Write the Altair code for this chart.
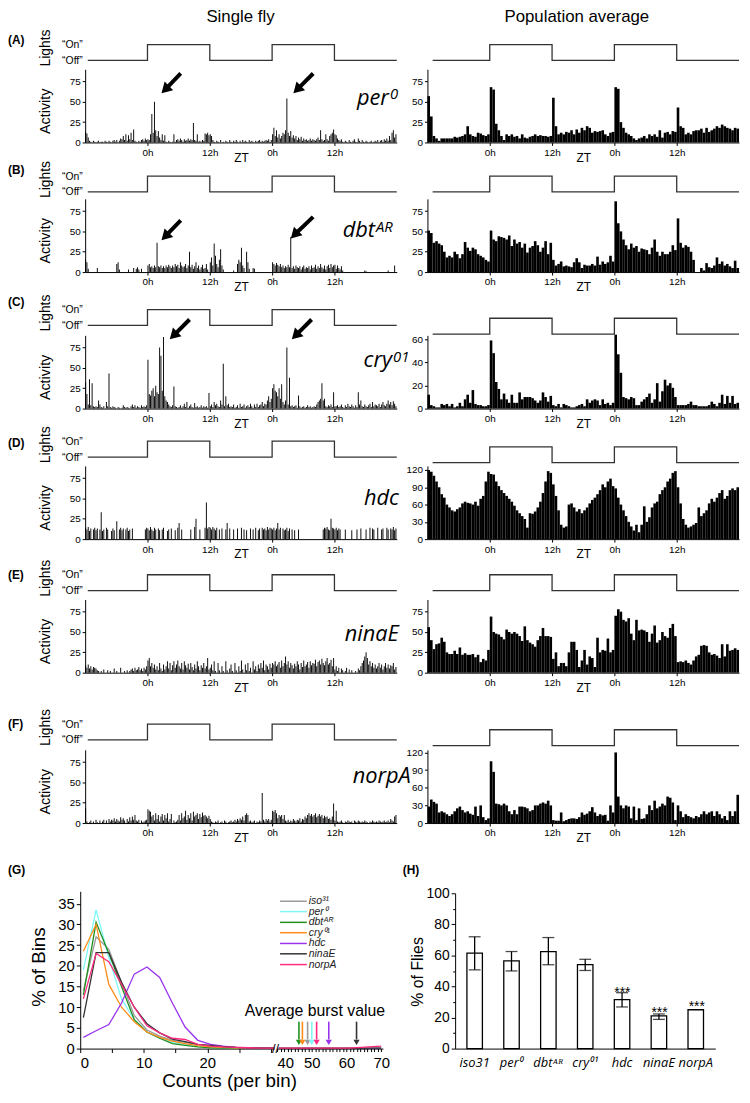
import altair as alt
import pandas as pd

FONT = "Liberation Sans"
IT_FONT = "Open Sans"

# ---------------- single fly: 15-min bins, ZT -12h .. 48h (240 values) ----------------
PER0_SINGLE = [
    13,11,6,2, 1,0,2,1, 0,1,2,0, 1,1,0,2, 1,0,2,1, 0,2,3,1, 3,0,2,5, 4,8,3,10, 2,9,4,12, 3,16,2,1, 0,2,1,3, 4,2,5,3,
    4,3,10,35, 12,50,15,8, 14,6,3,10, 2,9,1,0, 2,1,0,1, 10,1,3,4, 2,5,3,1, 4,2,3,5, 2,4,3,24, 3,2,10,1, 2,1,3,2, 11,10,12,9,
    10,8,3,1, 0,2,1,0, 3,0,1,0, 2,1,0,3, 1,0,2,1, 3,1,0,2, 0,3,1,2, 1,0,3,1, 2,1,0,2, 1,2,3,1, 2,1,2,3, 2,4,1,3,
    10,18,8,15, 6,10,5,8, 12,10,15,54, 12,8,14,6, 9,5,8,3, 6,4,7,2, 5,3,4,2, 3,5,2,4, 3,2,4,6, 3,15,4,2, 3,10,4,2, 8,10,12,16,
    10,9,5,3, 2,4,1,0, 2,1,0,3, 1,0,2,4, 1,0,5,2, 0,3,1,0, 2,1,0,1, 2,0,1,2, 1,3,0,2, 3,1,4,2, 5,2,8,3, 12,15,6,10,
]
DBT_SINGLE = [
    15,12,4,0, 0,0,0,0, 0,5,0,0, 0,0,0,0, 0,0,0,0, 0,0,0,0, 10,12,3,0, 0,0,0,0, 0,3,0,0, 0,5,0,4, 6,3,0,4, 0,0,0,0,
    8,10,6,7, 5,8,6,36, 7,6,8,5, 7,5,8,6, 9,7,5,8, 6,10,7,9, 5,12,8,6, 7,10,5,8, 25,6,9,4, 7,12,5,8, 3,6,9,4, 5,10,3,0,
    12,18,8,35, 20,10,6,15, 28,8,3,0, 0,0,0,0, 0,0,2,0, 0,10,15,12, 30,8,5,0, 25,12,4,0, 0,5,4,0, 0,0,0,0, 0,0,0,0, 0,0,0,0,
    12,10,8,11, 9,7,10,6, 8,5,7,6, 9,6,43,5, 7,4,8,6, 5,7,3,6, 8,4,6,5, 7,3,8,5, 6,9,4,7, 5,10,6,4, 8,3,7,9, 5,10,6,8,
    9,4,8,5, 3,7,2,0, 0,0,0,0, 0,0,0,0, 0,0,0,0, 0,0,0,2, 1,0,0,0, 0,0,0,0, 0,0,0,0, 0,0,0,0, 0,2,0,0, 0,0,8,0,
]
CRY_SINGLE = [
    32,18,5,36, 4,31,3,2, 3,2,10,5, 2,1,3,0, 8,3,43,2, 1,3,2,1, 0,2,1,0, 1,4,2,1, 2,1,0,3, 5,2,4,1, 3,2,1,4, 2,3,2,4,
    60,18,16,22, 25,15,28,20, 18,75,65,22, 88,15,10,8, 5,3,2,4, 27,3,2,1, 2,4,1,3, 6,2,8,1, 3,5,2,1, 7,2,3,1, 2,4,1,3, 2,3,1,19,
    3,5,2,8, 4,6,3,2, 10,5,55,3, 15,4,6,2, 3,2,5,1, 2,4,1,6, 2,3,5,1, 3,4,2,6, 3,1,5,2, 6,2,4,5, 8,3,6,5, 10,15,8,12,
    25,30,22,20, 15,25,12,30, 8,5,10,75, 5,38,3,4, 2,3,4,1, 16,3,1,2, 3,1,2,4, 2,3,1,2, 3,2,5,8, 10,12,31,10, 12,3,2,4, 3,5,2,20,
    3,3,4,2, 3,5,2,1, 4,2,6,3, 2,5,3,1, 4,2,20,5, 10,3,2,5, 3,2,4,6, 2,8,3,5, 4,3,6,2, 5,8,4,3, 6,10,5,8, 4,9,6,3,
]
HDC_SINGLE = [
    14,12,15,10, 13,0,12,14, 11,13,0,12, 33,10,12,0, 14,12,0,0, 10,13,11,0, 22,0,12,14, 11,13,0,12, 14,10,12,0, 13,0,0,0, 0,0,0,0, 0,0,12,14,
    13,11,15,12, 10,14,12,0, 13,11,0,12, 14,0,0,10, 12,0,13,0, 0,11,0,14, 20,0,12,0, 0,0,0,0, 0,12,0,0, 15,25,0,0, 12,0,0,0, 14,45,13,15,
    14,12,15,13, 11,14,0,12, 0,13,0,0, 12,20,0,13, 0,0,12,0, 0,13,0,0, 14,0,12,0, 11,0,0,13, 0,12,0,14, 0,11,13,0, 14,12,13,11, 15,12,14,13,
    12,14,11,13, 20,12,14,0, 13,11,12,14, 10,13,0,12, 0,11,0,0, 12,0,0,0, 0,0,0,0, 0,0,0,0, 0,0,0,0, 0,0,0,12, 14,13,15,12, 11,25,14,13,
    12,14,11,13, 12,0,0,0, 12,0,0,0, 0,11,0,0, 0,12,0,0, 13,0,0,0, 12,0,0,14, 0,13,12,0, 0,14,0,0, 12,13,0,0, 14,12,0,13, 12,15,11,13,
]
NINAE_SINGLE = [
    9,6,10,5, 8,4,7,6, 5,3,2,0, 2,0,4,0, 0,3,0,2, 0,0,5,0, 2,0,0,6, 0,0,2,0, 3,0,2,4, 5,2,6,3, 4,7,3,5, 2,6,4,8,
    15,18,8,12, 6,10,4,8, 3,12,5,2, 10,4,8,14, 5,12,3,9, 14,6,10,15, 8,5,12,4, 14,9,6,11, 4,12,7,3, 10,5,14,8, 3,9,6,12, 5,8,18,4,
    6,10,3,14, 2,0,12,3, 0,8,2,0, 14,3,0,5, 10,2,0,12, 3,0,8,2, 15,4,0,10, 3,12,2,6, 0,14,4,8, 2,10,5,12, 6,15,3,10, 8,4,11,6,
    12,10,14,8, 10,13,6,15, 8,12,20,10, 14,6,12,9, 5,11,8,14, 10,4,12,7, 15,8,10,13, 6,14,9,12, 11,16,8,13, 15,10,17,12, 9,14,18,10, 12,16,8,18,
    4,8,2,6, 0,5,3,0, 2,6,0,4, 0,3,0,0, 2,0,5,3, 8,12,15,20, 25,18,10,14, 8,12,6,10, 5,8,12,6, 10,4,8,12, 6,10,5,9, 8,12,4,7,
]
NORPA_SINGLE = [
    18,2,0,1, 3,0,2,0, 4,1,0,3, 0,2,4,0, 3,0,5,2, 4,3,6,2, 5,3,2,7, 4,6,3,0, 5,2,7,3, 8,4,10,3, 2,4,0,3, 1,2,3,4,
    17,15,14,8, 10,3,12,5, 10,2,8,11, 3,10,6,12, 2,5,11,0, 3,1,2,4, 10,3,12,6, 8,15,4,10, 6,12,3,14, 8,10,12,5, 11,7,13,9, 10,8,6,9,
    5,2,1,0, 2,1,3,0, 1,2,0,3, 2,0,1,2, 3,1,2,4, 2,5,3,6, 4,8,3,10, 12,10,2,3, 1,2,3,0, 2,1,3,2, 37,4,2,5, 3,5,2,4,
    15,14,16,12, 6,10,8,10, 5,10,3,2, 4,1,3,2, 5,3,2,4, 3,6,2,5, 4,8,6,10, 12,9,11,8, 10,12,7,9, 11,8,10,6, 9,7,8,5, 6,4,8,24,
    3,15,2,1, 2,3,1,0, 2,1,3,2, 1,2,0,3, 2,1,3,2, 1,2,1,3, 2,1,0,2, 1,3,2,1, 2,1,3,2, 1,2,3,1, 2,3,1,5, 3,2,8,10,
]

# ---------------- population average: 30-min bins (120 values) ----------------
PER0_POP = [
    57,32,8,5,2,5,5,5,5,5,7,6,7,8,10,20,10,8,7,12,11,9,8,10,
    68,65,23,15,8,3,10,8,10,7,8,5,10,6,5,7,8,10,8,9,8,8,7,8,
    55,20,10,12,10,13,12,15,10,16,12,18,15,20,18,12,14,13,14,15,10,8,12,13,
    68,66,25,18,12,10,8,5,3,5,6,8,5,10,8,10,7,15,6,12,13,10,14,13,
    43,20,18,10,12,10,14,15,15,17,12,18,13,15,17,20,18,22,20,18,17,15,18,17,
]
DBT_POP = [
    51,48,36,38,35,33,25,18,20,18,25,22,17,22,37,30,26,30,28,22,20,18,15,13,
    51,40,38,44,43,42,40,45,32,40,35,37,30,35,24,30,32,38,33,25,30,38,22,36,
    15,8,10,13,7,8,7,6,12,17,12,5,9,8,8,10,8,19,9,13,10,12,20,13,
    87,60,50,40,33,28,35,30,32,25,29,28,27,22,30,40,25,20,25,22,22,25,33,27,
    66,36,30,33,31,25,15,0,0,5,2,11,6,5,8,18,10,13,8,10,7,5,14,5,
]
CRY_POP = [
    12,3,2,1,1,4,3,4,2,4,1,2,5,2,8,12,5,16,4,3,3,2,2,3,
    59,48,23,17,8,13,8,5,12,5,5,14,8,10,10,10,9,7,5,7,14,10,6,11,
    3,2,4,1,4,3,2,1,1,2,3,4,2,8,5,7,8,7,3,8,4,5,3,5,
    64,47,31,10,9,8,10,9,3,3,6,8,10,13,5,8,22,6,15,25,20,22,18,10,
    3,3,3,3,4,6,3,3,2,2,2,2,3,6,4,2,5,12,4,11,5,11,4,5,
]
HDC_POP = [
    120,117,110,100,90,78,72,60,55,50,48,52,55,62,65,63,62,60,65,58,70,75,100,117,
    113,112,100,92,85,80,75,70,65,58,50,45,40,35,20,45,44,48,55,65,80,100,118,115,
    95,75,50,25,20,22,60,62,55,48,52,45,50,55,62,68,72,78,85,95,90,100,105,92,
    88,72,60,50,40,30,22,15,25,12,25,57,30,38,55,62,65,78,85,90,100,105,115,118,
    90,62,35,25,20,22,25,28,55,40,45,50,62,70,65,72,80,85,70,75,85,88,85,90,
]
NINAE_POP = [
    56,40,29,35,36,43,38,25,23,23,27,23,31,22,24,22,22,23,19,22,13,17,15,28,
    69,50,48,47,44,41,53,50,48,50,48,45,39,57,40,37,35,32,40,45,55,45,45,44,
    17,25,8,12,12,8,25,38,38,28,7,15,28,10,20,18,7,43,25,28,27,42,25,28,
    70,78,75,65,63,67,48,40,65,52,53,52,50,38,48,58,37,40,50,45,43,55,60,45,
    13,14,13,15,12,10,15,20,22,33,34,33,25,22,23,21,18,35,20,35,27,28,30,28,
]
NORPA_POP = [
    28,40,36,33,18,20,18,15,12,15,20,25,28,22,18,20,16,14,28,12,30,10,5,8,
    105,87,33,32,30,33,30,20,15,22,15,28,28,27,25,20,22,30,30,33,35,33,38,30,
    5,4,4,18,3,5,7,8,8,7,10,18,14,16,20,27,18,12,15,13,14,4,30,18,
    120,45,30,25,30,28,8,28,5,25,7,8,15,30,22,38,25,28,33,30,45,43,35,5,
    30,20,10,15,12,10,8,12,10,15,20,15,18,20,12,20,15,8,12,5,20,12,20,48,
]

SINGLE = [PER0_SINGLE, DBT_SINGLE, CRY_SINGLE, HDC_SINGLE, NINAE_SINGLE, NORPA_SINGLE]
POP = [PER0_POP, DBT_POP, CRY_POP, HDC_POP, NINAE_POP, NORPA_POP]
for s in SINGLE:
    assert len(s) == 240, len(s)
for p in POP:
    assert len(p) == 120, len(p)

LIGHT_T = [-12, 0, 12, 24, 36, 48]
LIGHT_S = [0, 1, 0, 1, 0, 0]
ZT_TICKS = [0, 12, 24, 36]

ROW_LETTER = ["(A)", "(B)", "(C)", "(D)", "(E)", "(F)"]
ROW_H = [99, 131, 138, 132, 135, 152]
ON_LEFT = [0, 34, 38, 33, 36, 52]
ON_RIGHT = [0, 34, 46.7, 38.7, 36, 57.7]
LETTER_Y = [-5, 28, 30, 34.7, 36, 52]
POP_MAX = [90, 90, 63.4, 127, 90, 124.4]
POP_TICKS = [[0, 25, 50, 75], [0, 25, 50, 75], [0, 20, 40, 60],
             [0, 30, 60, 90, 120], [0, 25, 50, 75], [0, 30, 60, 90, 120]]

GENO_BASE = ["per", "dbt", "cry", "hdc", "ninaE", "norpA"]
GENO_SUP = ["0", "AR", "01", "", "", ""]
GENO_X = [46.5, 43.8, 47.1, 48.4, 48.4, 50.7]
GENO_Y = [46, 42.5, 50.5, 41.5, 39.5, 49.5]

ARROW_TAIL_X = [[6.4, 31.9], [6.4, 31.9], [8.1, 31.6]]
ARROW_TAIL_Y = [[84.8, 84.8], [63.6, 67.8], [109.5, 109.5]]
ARROW_TIP_X = [[2.7, 28.1], [2.7, 27.6], [4.3, 27.8]]
ARROW_TIP_Y = [[60.5, 60.5], [39.3, 41.4], [85.2, 85.2]]

# ---------------- panel G ----------------
G_NAMES = ["iso31", "per0", "dbtAR", "cry01", "hdc", "ninaE", "norpA"]
G_LABELS = ["iso\u00b3\u00b9", "per\u2070", "dbt\u1d2c\u1d3f", "cry\u2070\u00b9", "hdc", "ninaE", "norpA"]
G_COLORS = ["#9a9a9a", "#7ff7f7", "#1f8f1f", "#ff8c1a", "#9933ee", "#333333", "#ff2a7f"]
G_X = [0.5, 2.5, 4.5, 6.5, 8.5, 10.5, 12.5, 14.5, 16.5, 18.5, 20.5, 22.5, 24.5, 26.5, 28.5, 30.5]
G_SERIES = [
    [14, 27, 24, 16, 8, 4.5, 3, 2, 1.5, 1, 0.7, 0.4, 0.3, 0.2, 0.1, 0.1],
    [19, 33.5, 22, 12, 7, 4, 2.5, 1.5, 1, 0.5, 0.3, 0.2, 0.1, 0.1, 0.05, 0.05],
    [13, 30.5, 23, 15, 7, 4, 2.5, 1.2, 0.8, 0.4, 0.2, 0.1, 0.1, 0.05, 0.05, 0.05],
    [23.5, 30, 15.5, 10, 6.5, 4, 2.7, 1.8, 1.2, 0.7, 0.4, 0.3, 0.2, 0.1, 0.1, 0.1],
    [2.7, 4.3, 5.8, 11, 18, 19.7, 17.2, 11, 5.2, 2, 1, 0.6, 0.3, 0.2, 0.1, 0.1],
    [7.5, 23.2, 23.2, 16, 10, 6, 3.8, 2.3, 1.7, 1, 0.8, 0.5, 0.3, 0.2, 0.1, 0.1],
    [12, 23, 21, 15.5, 10, 5.5, 3.8, 2.5, 2.2, 1, 0.6, 0.4, 0.3, 0.2, 0.1, 0.1],
]
G_RIGHT_X = [40.5, 50.5, 60.5, 70.0]
G_RIGHT = [
    [0.05, 0.05, 0.05, 0.05], [0.05, 0.05, 0.05, 0.05], [0.05, 0.05, 0.05, 0.05],
    [0.05, 0.05, 0.05, 0.05], [0.05, 0.05, 0.05, 0.05], [0.05, 0.05, 0.05, 0.1],
    [0.1, 0.1, 0.1, 0.6],
]
LEG_Y = [35.6, 33.1, 30.5, 28.0, 25.4, 22.9, 20.3]
BURST_NAMES = ["dbtAR", "cry01", "iso31", "per0", "norpA", "hdc", "ninaE"]
BURST_X = [46.3, 47.3, 48.8, 50.0, 51.4, 54.9, 62.9]

# ---------------- panel H ----------------
H_NAMES = ["iso31", "per\u2070", "dbt\u1d2c\u1d3f", "cry\u2070\u00b9", "hdc", "ninaE", "norpA"]
H_VALS = [61.5, 56.5, 62.5, 54, 31.5, 21, 25]
H_LO = [50.7, 50, 54, 50.3, 26.8, 18.8]
H_HI = [72, 62.5, 71.5, 57.5, 36, 22.3]
STAR_NAMES = ["hdc", "ninaE", "norpA"]
STAR_Y = [38.3, 25.4, 29.0]
H_MINOR = [10, 30, 50, 70, 90]


def xscale():
    return alt.Scale(domain=[-12, 48], nice=False, zero=False)


def bars_df(vals, step, width):
    start = [-12 + i * step for i in range(len(vals))]
    return pd.DataFrame({"t": start, "t2": [s + width for s in start],
                         "v": vals, "z": [0] * len(vals)})


def text_layer(txt, x, y, size, weight="normal", align="left", baseline="middle"):
    return alt.Chart(pd.DataFrame({"s": [txt]})).mark_text(
        font=FONT, fontSize=size, fontWeight=weight, align=align, baseline=baseline, color="black"
    ).encode(x=alt.value(x), y=alt.value(y), text="s:N")


def make_cell(row, side):
    h = ROW_H[row]
    left = side == 0
    on = ON_LEFT[row] if left else ON_RIGHT[row]
    start = -11.5 if left else -11.0
    ldf = pd.DataFrame({"t": [start] + LIGHT_T[1:], "s": LIGHT_S})
    lys = alt.Scale(domain=[0, 1], range=[on + 16, on], nice=False, zero=False)
    if left:
        lax = alt.Axis(orient="left", values=[0, 1],
                       labelExpr="datum.value == 1 ? '\u201cOn\u201d' : '\u201cOff\u201d'",
                       domain=False, ticks=False, labelFontSize=10.5, labelPadding=3,
                       title="Lights", titleFontSize=14, titleFontWeight="normal",
                       titleAngle=270, titleAlign="center", titleBaseline="middle",
                       titleX=-40, titleY=on + 3)
    else:
        lax = None
    layers = [alt.Chart(ldf).mark_line(interpolate="step-after", color="#333333", strokeWidth=1.3).encode(
        x=alt.X("t:Q", scale=xscale(), axis=None),
        y=alt.Y("s:Q", scale=lys, axis=lax),
    )]
    if left:
        layers.append(text_layer(ROW_LETTER[row], -78, LETTER_Y[row], 12, weight="bold"))
    if row == 0:
        if left:
            layers.append(text_layer("Single fly", 157, -36, 17, align="center", baseline="top"))
        else:
            layers.append(text_layer("Population average", 151, -36, 17, align="center", baseline="top"))

    if left:
        vals, step, bw, ymax, ticks = SINGLE[row], 0.25, 0.18, 90, [0, 25, 50, 75]
    else:
        vals, step, bw, ymax, ticks = POP[row], 0.5, 0.5, POP_MAX[row], POP_TICKS[row]

    def ays():
        return alt.Scale(domain=[0, ymax], range=[h, h - 74], nice=False, zero=False)

    yax = alt.Axis(orient="left", values=ticks, tickSize=3, labelFontSize=10, labelPadding=2,
                   title="Activity" if left else "", titleFontSize=14.5, titleFontWeight="normal",
                   titleAngle=270, titleAlign="center", titleBaseline="middle",
                   titleX=-40, titleY=h - 32)
    xax = alt.Axis(orient="bottom", values=ZT_TICKS,
                   labelExpr="datum.value % 24 == 0 ? '0h' : '12h'",
                   tickSize=3, labelFontSize=10, labelPadding=2,
                   title="ZT", titleFontSize=12, titleFontWeight="normal",
                   titleY=19, titleBaseline="alphabetic")
    layers.append(alt.Chart(bars_df(vals, step, bw)).mark_rect(color="black").encode(
        x=alt.X("t:Q", scale=xscale(), axis=xax),
        x2="t2:Q",
        y=alt.Y("v:Q", scale=ays(), axis=yax),
        y2="z:Q",
    ))
    if left:
        gdf = pd.DataFrame({"x": [GENO_X[row]], "y": [GENO_Y[row]],
                            "b": [GENO_BASE[row]], "s": [GENO_SUP[row]]})
        layers.append(alt.Chart(gdf).mark_text(
            font=IT_FONT, fontStyle="italic", fontSize=22, align="right",
            baseline="alphabetic", color="black").encode(
            x=alt.X("x:Q", scale=xscale(), axis=None),
            y=alt.Y("y:Q", scale=ays(), axis=None),
            text="b:N"))
        layers.append(alt.Chart(gdf).mark_text(
            font=IT_FONT, fontStyle="italic", fontSize=15, align="left",
            baseline="alphabetic", dx=1, dy=-6, color="black").encode(
            x=alt.X("x:Q", scale=xscale(), axis=None),
            y=alt.Y("y:Q", scale=ays(), axis=None),
            text="s:N"))
        if row < 3:
            adf = pd.DataFrame({
                "x": ARROW_TAIL_X[row], "y": ARROW_TAIL_Y[row],
                "hx": [v + 0.71 for v in ARROW_TIP_X[row]],
                "hy": [v + 4.5 for v in ARROW_TIP_Y[row]],
            })
            layers.append(alt.Chart(adf).mark_rule(color="black", strokeWidth=4).encode(
                x=alt.X("x:Q", scale=xscale(), axis=None),
                y=alt.Y("y:Q", scale=ays(), axis=None),
                x2="hx:Q", y2="hy:Q"))
            layers.append(alt.Chart(adf).mark_point(
                shape="triangle-up", angle=225, filled=True, size=150,
                color="black", opacity=1).encode(
                x=alt.X("hx:Q", scale=xscale(), axis=None),
                y=alt.Y("hy:Q", scale=ays(), axis=None)))
    return alt.layer(*layers).resolve_scale(
        x="independent", y="independent").properties(width=315, height=h)


cells = []
for r in range(6):
    cells.append(make_cell(r, 0))
    cells.append(make_cell(r, 1))

# ---------------- G ----------------
GH = 228


def gx_l():
    return alt.Scale(domain=[0, 30.5], range=[-5, 191], nice=False, zero=False)


def gx_r():
    return alt.Scale(domain=[40, 70.5], range=[194, 301], nice=False, zero=False)


def gy():
    return alt.Scale(domain=[0, 38], range=[GH, 69], nice=False, zero=False)


gcolor = alt.Scale(domain=G_NAMES, range=G_COLORS)

gl_rows = []
for n, vals in zip(G_NAMES, G_SERIES):
    for x, v in zip(G_X, vals):
        gl_rows.append({"name": n, "x": x, "pct": v})
gl_df = pd.DataFrame(gl_rows)
gr_rows = []
for n, vals in zip(G_NAMES, G_RIGHT):
    for x, v in zip(G_RIGHT_X, vals):
        gr_rows.append({"name": n, "x": x, "pct": v})
gr_df = pd.DataFrame(gr_rows)

gl_lines = alt.Chart(gl_df).mark_line(strokeWidth=1.3).encode(
    x=alt.X("x:Q", scale=gx_l(), axis=alt.Axis(
        orient="bottom", values=[0, 5, 10, 15, 20, 25, 30],
        labelExpr="datum.value % 10 == 0 && datum.value < 30 ? datum.label : ''",
        tickSize=4, labelFontSize=15, labelPadding=3, title="")),
    y=alt.Y("pct:Q", scale=gy(), axis=alt.Axis(
        orient="left", offset=5, values=[0, 5, 10, 15, 20, 25, 30, 35],
        tickSize=4, labelFontSize=15, labelPadding=2,
        title="% of Bins", titleFontSize=19, titleFontWeight="normal",
        titleAngle=270, titleAlign="center", titleBaseline="middle",
        titleX=-42.5, titleY=145)),
    color=alt.Color("name:N", scale=gcolor, legend=None),
)
gr_lines = alt.Chart(gr_df).mark_line(strokeWidth=1.3).encode(
    x=alt.X("x:Q", scale=gx_r(), axis=alt.Axis(
        orient="bottom", values=list(range(40, 71)),
        labelExpr="datum.value % 10 == 0 ? datum.label : ''",
        tickSize=3, labelFontSize=15, labelPadding=4, title="")),
    y=alt.Y("pct:Q", scale=gy(), axis=None),
    color=alt.Color("name:N", scale=gcolor, legend=None),
)
bdf = pd.DataFrame({"name": BURST_NAMES, "x": BURST_X,
                    "y1": [6.5] * 7, "y2": [2.2] * 7, "yh": [1.5] * 7})
b_rule = alt.Chart(bdf).mark_rule(strokeWidth=1.6).encode(
    x=alt.X("x:Q", scale=gx_r(), axis=None),
    y=alt.Y("y1:Q", scale=gy(), axis=None), y2="y2:Q",
    color=alt.Color("name:N", scale=gcolor, legend=None))
b_head = alt.Chart(bdf).mark_point(shape="triangle-down", filled=True, size=40, opacity=1).encode(
    x=alt.X("x:Q", scale=gx_r(), axis=None),
    y=alt.Y("yh:Q", scale=gy(), axis=None),
    color=alt.Color("name:N", scale=gcolor, legend=None))
ldf = pd.DataFrame({"name": G_NAMES, "lab": G_LABELS, "y": LEG_Y,
                    "x1": [40.86] * 7, "x2": [48.57] * 7, "xt": [49.14] * 7})
leg_rule = alt.Chart(ldf).mark_rule(strokeWidth=1.5).encode(
    x=alt.X("x1:Q", scale=gx_r(), axis=None), x2="x2:Q",
    y=alt.Y("y:Q", scale=gy(), axis=None),
    color=alt.Color("name:N", scale=gcolor, legend=None))
leg_text = alt.Chart(ldf).mark_text(font=FONT, fontStyle="italic", fontSize=10.5,
                                    align="left", baseline="middle", color="#222222").encode(
    x=alt.X("xt:Q", scale=gx_r(), axis=None),
    y=alt.Y("y:Q", scale=gy(), axis=None),
    text="lab:N")
avg_df = pd.DataFrame({"x": [50.9], "y": [7.9], "s": ["Average burst value"]})
avg_text = alt.Chart(avg_df).mark_text(font=FONT, fontSize=16, align="center",
                                       baseline="alphabetic", color="black").encode(
    x=alt.X("x:Q", scale=gx_r(), axis=None),
    y=alt.Y("y:Q", scale=gy(), axis=None),
    text="s:N")
g_cell = alt.layer(
    gl_lines, gr_lines, b_rule, b_head, leg_rule, leg_text, avg_text,
    text_layer("(G)", -78, 47, 12, weight="bold"),
    text_layer("Counts (per bin)", 146, GH + 38.5, 19, align="center", baseline="alphabetic"),
    text_layer("//", 192.5, GH, 13, align="center"),
).resolve_scale(x="independent", y="independent").properties(width=315, height=GH)

# ---------------- H ----------------


def hx():
    return alt.Scale(domain=H_NAMES, range=[28, 291], paddingInner=0.58, paddingOuter=0.32)


def hy():
    return alt.Scale(domain=[0, 100], range=[GH, 71], nice=False, zero=False)


hdf = pd.DataFrame({"name": H_NAMES, "v": H_VALS, "z": [0] * 7})
edf = pd.DataFrame({"name": H_NAMES[:6], "lo": H_LO, "hi": H_HI})
sdf = pd.DataFrame({"name": STAR_NAMES, "y": STAR_Y, "s": ["***"] * 3})
mdf = pd.DataFrame({"m": H_MINOR})
h_bars = alt.Chart(hdf).mark_bar(fill="white", stroke="black", strokeWidth=1.3).encode(
    x=alt.X("name:N", scale=hx(), sort=H_NAMES, axis=alt.Axis(
        orient="bottom", ticks=False, labelFont=IT_FONT, labelFontStyle="italic",
        labelFontSize=13, labelPadding=8, labelAngle=0, title="")),
    y=alt.Y("v:Q", scale=hy(), axis=alt.Axis(
        orient="left", offset=-28, values=[0, 20, 40, 60, 80, 100], tickSize=4,
        labelFontSize=14, labelPadding=2, title="% of Flies", titleFontSize=16,
        titleFontWeight="normal", titleAngle=270, titleAlign="center",
        titleBaseline="middle", titleX=-37.5, titleY=150)),
)
h_minor = alt.Chart(mdf).mark_point(opacity=0).encode(
    x=alt.value(100),
    y=alt.Y("m:Q", scale=hy(), axis=alt.Axis(
        orient="left", offset=-28, values=H_MINOR, tickSize=2.5, labels=False,
        domain=False, title="")))
h_err = alt.Chart(edf).mark_rule(color="black", strokeWidth=1.3).encode(
    x=alt.X("name:N", scale=hx(), sort=H_NAMES, axis=None),
    y=alt.Y("lo:Q", scale=hy(), axis=None), y2="hi:Q")
h_cap_lo = alt.Chart(edf).mark_tick(color="black", size=12, thickness=1.3).encode(
    x=alt.X("name:N", scale=hx(), sort=H_NAMES, axis=None),
    y=alt.Y("lo:Q", scale=hy(), axis=None))
h_cap_hi = alt.Chart(edf).mark_tick(color="black", size=12, thickness=1.3).encode(
    x=alt.X("name:N", scale=hx(), sort=H_NAMES, axis=None),
    y=alt.Y("hi:Q", scale=hy(), axis=None))
h_star = alt.Chart(sdf).mark_text(font=FONT, fontSize=14, baseline="middle", dy=4,
                                  color="black").encode(
    x=alt.X("name:N", scale=hx(), sort=H_NAMES, axis=None),
    y=alt.Y("y:Q", scale=hy(), axis=None),
    text="s:N")
h_cell = alt.layer(h_bars, h_minor, h_err, h_cap_lo, h_cap_hi, h_star,
                   text_layer("(H)", -25, 47, 12, weight="bold")).resolve_scale(
    x="independent", y="independent").properties(width=315, height=GH)

cells += [g_cell, h_cell]

chart = alt.concat(*cells, columns=2, spacing={"row": 0, "column": 31},
                   bounds="flush", align="each").properties(
    padding={"top": -6, "left": 0, "right": 0, "bottom": 0}).configure_view(
    stroke=None).configure_axis(
    labelFont=FONT, titleFont=FONT, labelColor="black", titleColor="black",
    domainColor="black", tickColor="black", grid=False)

chart.save("out.html", embed_options={"renderer": "svg", "actions": False})
